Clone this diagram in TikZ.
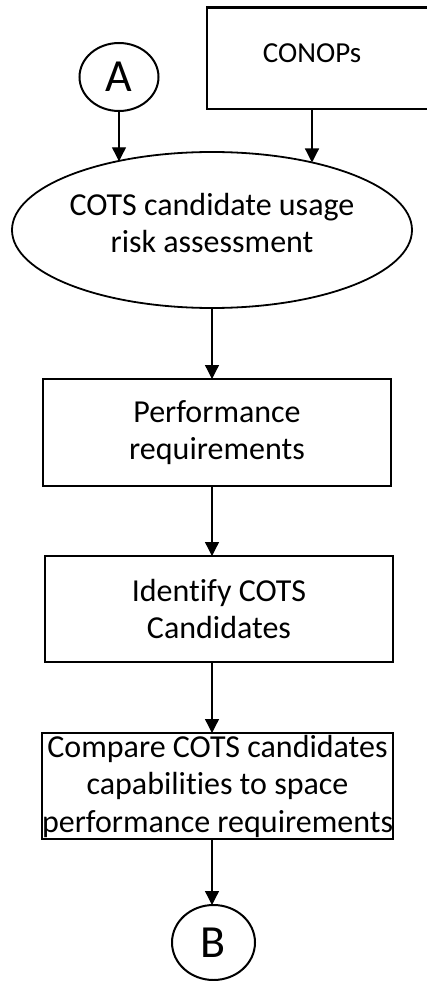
\documentclass[tikz,border=0pt]{standalone}
\usepackage{fontspec}
\setmainfont{Carlito}[Ligatures={NoCommon,NoContextual}]
\usetikzlibrary{shapes.geometric,arrows.meta}

\begin{document}
\begin{tikzpicture}[x=1pt,y=-1pt,
  every node/.style={inner sep=0pt,outer sep=0pt},
  body/.style={font=\fontsize{32}{37.5}\selectfont,align=center},
  procbox/.style={draw,line width=2.4pt,rectangle,body},
  connector/.style={draw,line width=2pt,ellipse,font=\fontsize{46}{50}\selectfont},
  arr/.style={line width=1.3pt,-{Triangle[length=14pt,width=14pt]}}]
  \useasboundingbox[fill=white] (0,0) rectangle (427,981);

  % off-page connector A and the CONOPs input box
  \node[connector,minimum width=79pt,minimum height=68pt] (A) at (119,77) {A};
  \draw[line width=2.4pt] (432,7.5) -- (207,7.5) -- (207,109) -- (432,109);
  \coordinate (conops) at (312,109);
  \node[font=\fontsize{29}{34}\selectfont] (conopstext) at (312,53) {CONOPs};

  % risk assessment ellipse
  \node[draw,ellipse,line width=1.8pt,minimum width=400pt,minimum height=156pt] (ell) at (212,230) {};
  \node[body] (elltext) at (212,223) {COTS candidate usage\\risk assessment};

  % process steps
  \node[procbox,minimum width=348pt,minimum height=107pt] (perf) at (217,432.5)
    {Performance\\requirements};
  \node[procbox,minimum width=348pt,minimum height=106pt] (ident) at (219,609)
    {Identify COTS\\Candidates};
  \node[procbox,minimum width=349pt,minimum height=106pt] (comp) at (217.5,786)
    {Compare COTS candidates\\capabilities to space\\performance requirements};

  % off-page connector B
  \node[connector,minimum width=83pt,minimum height=75pt] (B) at (213.5,942.5) {B};

  % flow
  \draw[arr] (A.south) -- (A.south |- ell.144);
  \draw[arr] (conops) -- (conops |- ell.34);
  \draw[arr] (ell.south) -- (ell.south |- perf.north);
  \draw[arr] (ell.south |- perf.south) -- (ell.south |- ident.north);
  \draw[arr] (ell.south |- ident.south) -- (ell.south |- comp.north);
  \draw[arr] (ell.south |- comp.south) -- (ell.south |- B.north);
\end{tikzpicture}
\end{document}
